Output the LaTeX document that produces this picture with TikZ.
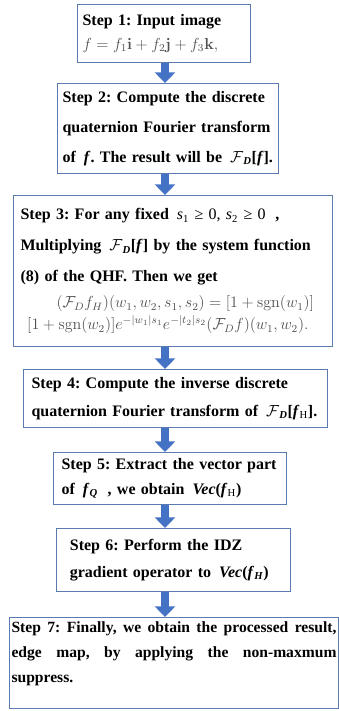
\documentclass[tikz,border=0pt]{standalone}
\usepackage[no-math]{fontspec}
\setmainfont{Liberation Serif}
\usepackage{amsmath}
\usetikzlibrary{arrows.meta}
\definecolor{boxline}{RGB}{91,122,176}
\definecolor{arrowblue}{RGB}{68,114,196}
\definecolor{formulagray}{RGB}{80,80,80}
\newcommand{\bi}[1]{\textbf{\textit{#1}}}
\newcommand{\FD}{$\mathcal{F}$\textsubscript{\bi{D}}}
\frenchspacing
\begin{document}
\begin{tikzpicture}[x=0.75pt,y=-0.75pt,
  stepbox/.style={draw=boxline, line width=0.8pt, anchor=north west, align=left, inner ysep=0pt},
  flow/.style={draw=arrowblue, line width=6pt, -{Triangle[width=15pt,length=8pt]}}]
\useasboundingbox (0,0) rectangle (339,711);
\coordinate (spine) at (165,0);
% the seven steps
\node[stepbox, minimum width=129.75pt, minimum height=43.5pt, text width=122.25pt, inner xsep=3.75pt,
  font=\bfseries\fontsize{12}{18}\selectfont] (s1) at (77,4)
  {Step 1: Input image\\ {\color{formulagray}$f=f_1\mathbf{i}+f_2\mathbf{j}+f_3\mathbf{k},$}};
\node[stepbox, minimum width=165.75pt, minimum height=67.5pt, text width=158.25pt, inner xsep=3.75pt,
  font=\bfseries\fontsize{12}{22.5}\selectfont] (s2) at (57,83)
  {Step 2: Compute the discrete\\ quaternion Fourier transform\\ \mbox{of \,\bi{f}. The result will be \,\FD[\bi{f}].}};
\node[stepbox, minimum width=239.25pt, minimum height=113.25pt, text width=228.75pt, inner xsep=5.25pt,
  font=\bfseries\fontsize{12}{23.25}\selectfont] (s3) at (13,195)
  {Step 3: For any fixed \,\textmd{\textit{s}\textsubscript{1} ≥ 0, \textit{s}\textsubscript{2} ≥ 0}\; ,\\
   \mbox{Multiplying \,\FD[\bi{f}] by the system function}\\
   (8) of the QHF. Then we get\\[-3.75pt]
   \mbox{\hspace*{27pt}\color{formulagray}$(\mathcal{F}_D f_H)(w_1,w_2,s_1,s_2)=[1+\mathrm{sgn}(w_1)]$}\\[-6.75pt]
   \mbox{\hspace*{5pt}\color{formulagray}$[1+\mathrm{sgn}(w_2)]e^{-|w_1|s_1}e^{-|t_2|s_2}(\mathcal{F}_D f)(w_1,w_2).$}};
\node[stepbox, minimum width=228pt, minimum height=43.5pt, text width=216pt, inner xsep=6pt,
  font=\bfseries\fontsize{12}{21}\selectfont] (s4) at (23,369)
  {Step 4: Compute the inverse discrete\\ \mbox{quaternion Fourier transform of \,\FD[\bi{f}\textsubscript{\textmd{H}}].}};
\node[stepbox, minimum width=174.75pt, minimum height=39pt, text width=162.75pt, inner xsep=6pt,
  font=\bfseries\fontsize{12}{18.75}\selectfont] (s5) at (53,452)
  {\mbox{Step 5: Extract the vector part}\\ \mbox{of \,\bi{f}\textsubscript{\bi{Q}}\; , we obtain \,\bi{Vec}(\bi{f}\textsubscript{\textmd{H}})}};
\node[stepbox, minimum width=175.5pt, minimum height=47.25pt, text width=155.5pt, inner xsep=10pt,
  font=\bfseries\fontsize{12}{20.25}\selectfont] (s6) at (56,528)
  {Step 6: Perform the IDZ\\ \mbox{gradient operator to \,\bi{Vec}(\bi{f}\textsubscript{\bi{H}})}};
\node[stepbox, minimum width=246.75pt, minimum height=68.25pt, text width=243.75pt, inner xsep=1.5pt, align=justify,
  font=\bfseries\fontsize{11.7}{18.75}\selectfont] (s7) at (9,617)
  {Step 7: Finally, we obtain the processed result,\linebreak edge map, by applying the non-maxmum\linebreak suppress.\rule[-17pt]{0pt}{17pt}};
% arrows between the steps
\draw[flow] (s1.south -| spine) -- (s2.north -| spine);
\draw[flow] (s2.south -| spine) -- (s3.north -| spine);
\draw[flow] (s3.south -| spine) -- (s4.north -| spine);
\draw[flow] (s4.south -| spine) -- (s5.north -| spine);
\draw[flow] (s5.south -| spine) -- (s6.north -| spine);
\draw[flow] (s6.south -| spine) -- (s7.north -| spine);
\end{tikzpicture}
\end{document}
